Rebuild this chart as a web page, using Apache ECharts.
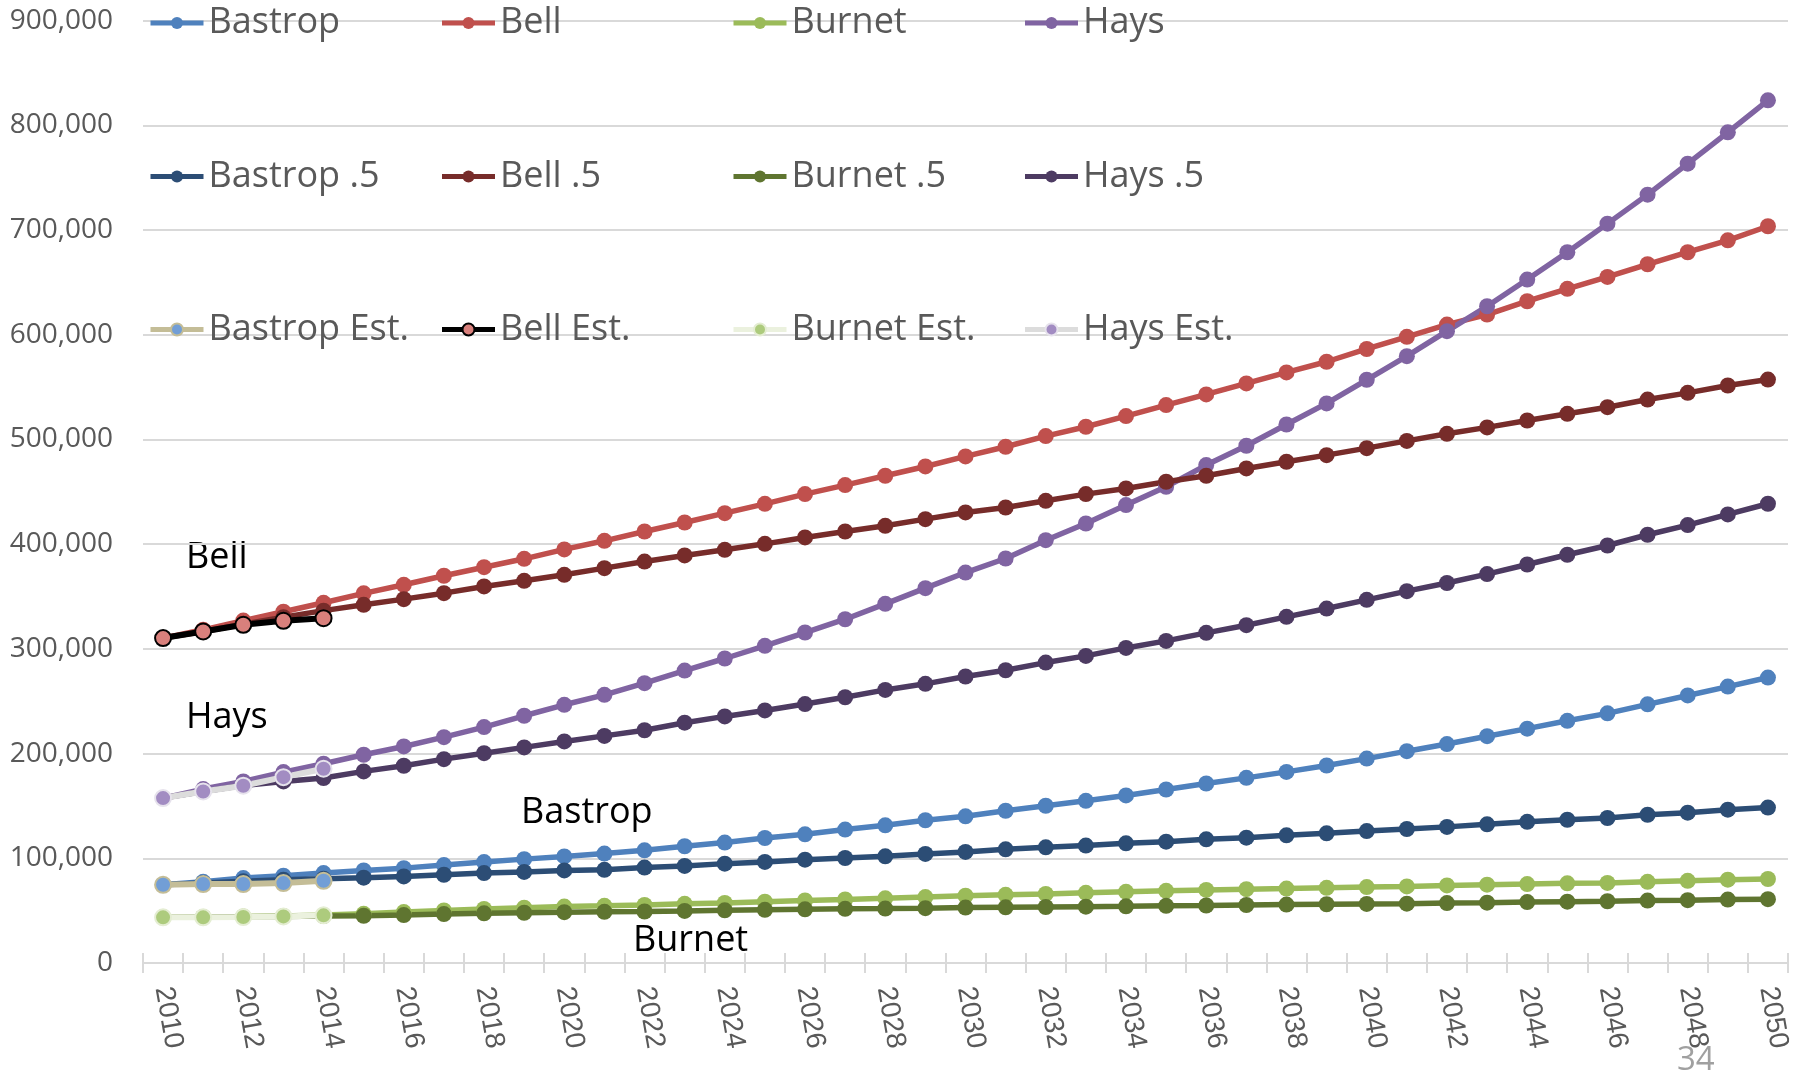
<!DOCTYPE html>
<html>
<head>
<meta charset="utf-8">
<script src="https://cdn.jsdelivr.net/npm/echarts@6/dist/echarts.min.js"></script>
<style>
html,body{margin:0;padding:0;background:#fff;}
#chart{width:1795px;height:1077px;}
</style>
</head>
<body>
<div id="chart"></div>
<script>
var years = ['2010','2011','2012','2013','2014','2015','2016','2017','2018','2019','2020',
  '2021','2022','2023','2024','2025','2026','2027','2028','2029','2030',
  '2031','2032','2033','2034','2035','2036','2037','2038','2039','2040',
  '2041','2042','2043','2044','2045','2046','2047','2048','2049','2050'];

var bastrop = [74700, 77500, 81100, 83300, 85900, 88400, 90600, 93500, 96400, 99200, 101800,
  104500, 107600, 111500, 115000, 119400, 122900, 127400, 131500, 136300, 140100,
  145400, 150200, 154900, 160000, 165700, 171400, 176800, 182500, 188600, 195200,
  202300, 209100, 216600, 223800, 231300, 238400, 247000, 255500, 264000, 272600];
var bell = [310300, 318200, 327000, 335500, 344000, 353000, 361200, 369800, 378000, 386000, 395000,
  403200, 412100, 420700, 429600, 438500, 447800, 456400, 465300, 474200, 483800,
  493000, 503200, 512100, 522300, 532800, 543000, 553500, 564000, 574200, 586400,
  598000, 609700, 619300, 632000, 643800, 655200, 667300, 678800, 690200, 703600];
var burnet = [43600, 44000, 44400, 45000, 45800, 47000, 48600, 50200, 51600, 52800, 53900,
  54600, 55500, 56500, 57400, 58600, 59800, 60700, 61800, 63000, 64200,
  65100, 66000, 67000, 68000, 68900, 69800, 70500, 71100, 71800, 72500,
  73100, 74100, 74800, 75400, 76100, 76500, 77500, 78500, 79600, 80200];
var hays = [157500, 166100, 173400, 182300, 190300, 198900, 206800, 215700, 225300, 236100, 246600,
  256100, 267200, 279300, 290800, 302900, 315600, 328300, 343000, 358000, 372900,
  386300, 403800, 419700, 437300, 454800, 475500, 494000, 514300, 534400, 557000,
  579500, 603400, 627200, 652700, 678800, 706100, 733800, 763400, 793300, 823900];

var bastropHalf = [74700, 76500, 78000, 79500, 80500, 81500, 82700, 84300, 85900, 87000, 88400,
  89000, 91100, 92700, 94900, 96500, 98700, 100300, 101900, 104200, 106100,
  108600, 110500, 112100, 114300, 115900, 118100, 119700, 121900, 123800, 126000,
  128000, 130000, 132400, 134800, 136800, 138500, 141600, 143600, 146400, 148400];
var bellHalf = [310300, 316600, 323500, 330300, 336500, 342100, 347500, 353200, 359600, 365000, 370700,
  377100, 383400, 389200, 394600, 400300, 406400, 412100, 417500, 423900, 430300,
  435000, 441400, 447800, 453200, 459600, 465300, 472300, 478700, 485000, 491700,
  498600, 505400, 511500, 518100, 524500, 530800, 538100, 544500, 551500, 557200];
var burnetHalf = [43600, 43900, 44200, 44500, 44800, 45100, 45800, 46700, 47400, 48000, 48500,
  48900, 49200, 49700, 50300, 50800, 51300, 51700, 52000, 52400, 52900,
  53200, 53500, 53800, 54100, 54600, 54900, 55400, 55800, 56100, 56400,
  56700, 57200, 57600, 58200, 58600, 59000, 59600, 60000, 60600, 61000];
var haysHalf = [157500, 163800, 169600, 173400, 176600, 183000, 188400, 194700, 200400, 205900, 211600,
  216900, 222300, 229500, 235500, 241200, 247300, 253800, 260800, 266600, 273600,
  279600, 286900, 293300, 300900, 307600, 315300, 322600, 330600, 338500, 346800,
  355100, 362900, 371400, 380600, 389900, 398700, 409000, 418200, 428400, 438600];

var bastropEst = [74700, 75400, 75400, 76300, 78500];
var bellEst = [310300, 316600, 323000, 326800, 329300];
var burnetEst = [43600, 43600, 43900, 44500, 45500];
var haysEst = [157500, 163800, 169300, 177500, 185500];

var legendRow1 = ['Bastrop', 'Bell', 'Burnet', 'Hays'];
var legendRow2 = ['Bastrop .5', 'Bell .5', 'Burnet .5', 'Hays .5'];
var legendRow3 = ['Bastrop Est.', 'Bell Est.', 'Burnet Est.', 'Hays Est.'];

var annotations = [
  {text: 'Bell', x: 186, y: 558},
  {text: 'Hays', x: 186, y: 718},
  {text: 'Bastrop', x: 521, y: 813},
  {text: 'Burnet', x: 633, y: 941}
];

function mainSeries(name, data, color) {
  return {
    name: name, type: 'line', data: data,
    symbol: 'circle', symbolSize: 16, showAllSymbol: true,
    lineStyle: {color: color, width: 5.5},
    itemStyle: {color: color, borderWidth: 0}
  };
}
function estSeries(name, data, lineColor, fill, border) {
  return {
    name: name, type: 'line', data: data,
    symbol: 'circle', symbolSize: 16, showAllSymbol: true,
    lineStyle: {color: lineColor, width: 6},
    itemStyle: {color: fill, borderColor: border, borderWidth: 2}
  };
}

var legendCommon = {
  orient: 'horizontal', padding: 0, itemWidth: 53, itemHeight: 15, itemGap: 10,
  selectedMode: false,
  lineStyle: {width: 5},
  textStyle: {fontFamily: 'Open Sans', fontSize: 36, color: '#595959', width: 221, lineHeight: 40}
};
function legendAt(top, data) {
  var o = {}; for (var k in legendCommon) o[k] = legendCommon[k];
  o.left = 148; o.top = top; o.data = data;
  return o;
}

var chart = echarts.init(document.getElementById('chart'), null, {renderer: 'canvas'});
var graphics = annotations.map(function (a) {
  return {type: 'text', silent: true, x: a.x, y: a.y,
    style: {text: a.text, fill: '#000000', font: '36px "Open Sans"', verticalAlign: 'middle', align: 'left'}};
});
graphics.push({
  type: 'text', silent: true, x: 1677, y: 1061,
  style: {text: '34', fill: '#a0a0a0', font: '33px "Open Sans"', verticalAlign: 'middle', align: 'left'}
});
chart.setOption({
  animation: false,
  backgroundColor: '#ffffff',
  grid: {left: 143, right: 7, top: 20.6, bottom: 114, containLabel: false},
  legend: [legendAt(3, legendRow1), legendAt(156.5, legendRow2), legendAt(309.5, legendRow3)],
  xAxis: [{
    type: 'category', data: years, boundaryGap: true,
    axisLine: {show: true, lineStyle: {color: '#d9d9d9', width: 2}},
    axisTick: {show: true, interval: 0, length: 10, lineStyle: {color: '#d9d9d9', width: 2}},
    axisLabel: {interval: 1, rotate: -80, margin: 24, fontFamily: 'Liberation Sans', fontSize: 28, color: '#595959'},
    splitLine: {show: false}
  }, {
    type: 'category', data: years, boundaryGap: true, position: 'bottom',
    axisLine: {show: false},
    axisTick: {show: true, inside: true, interval: 0, length: 10, lineStyle: {color: '#d9d9d9', width: 2}},
    axisLabel: {show: false},
    splitLine: {show: false}
  }],
  yAxis: {
    type: 'value', min: 0, max: 900000, interval: 100000,
    axisLine: {show: false}, axisTick: {show: false},
    axisLabel: {
      margin: 30, fontFamily: 'Open Sans', fontSize: 28, color: '#595959',
      formatter: function (v) { return v.toString().replace(/\B(?=(\d{3})+(?!\d))/g, ','); }
    },
    splitLine: {lineStyle: {color: '#d9d9d9', width: 2}}
  },
  series: [
    mainSeries('Bastrop', bastrop, '#4F81BD'),
    mainSeries('Bell', bell, '#C0504D'),
    mainSeries('Burnet', burnet, '#9BBB59'),
    mainSeries('Hays', hays, '#8064A2'),
    mainSeries('Bastrop .5', bastropHalf, '#2C4D75'),
    mainSeries('Bell .5', bellHalf, '#772C2A'),
    mainSeries('Burnet .5', burnetHalf, '#5F7530'),
    mainSeries('Hays .5', haysHalf, '#4D3B62'),
    estSeries('Bastrop Est.', bastropEst, '#C4BD97', '#729ED6', '#C4BD97'),
    estSeries('Bell Est.', bellEst, '#000000', '#D9807C', '#000000'),
    estSeries('Burnet Est.', burnetEst, '#EBF1DE', '#ADCB7D', '#E4EDD2'),
    estSeries('Hays Est.', haysEst, '#DCDCDC', '#A28CC2', '#E6E2EC')
  ],
  graphic: graphics
});
</script>
</body>
</html>
